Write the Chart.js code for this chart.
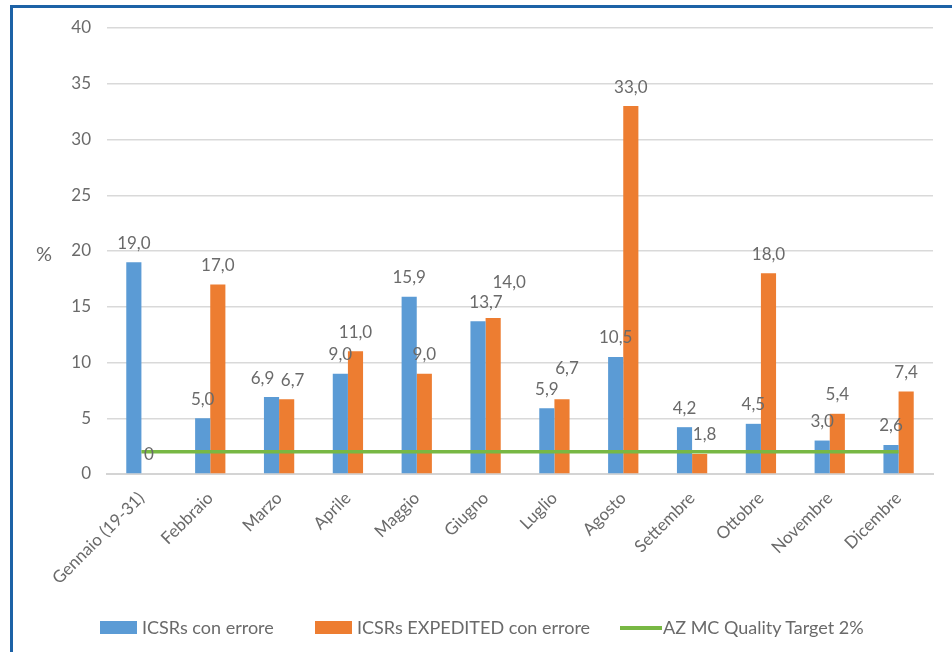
<!DOCTYPE html>
<html>
<head>
<meta charset="utf-8">
<script src="https://cdn.jsdelivr.net/npm/chart.js@4/dist/chart.umd.min.js"></script>
<style>
  html, body { margin: 0; padding: 0; background: #fff; }
  #wrap { position: relative; width: 952px; height: 652px; overflow: hidden; }
  #frame { position: absolute; left: 10px; top: 5px; right: 0; bottom: 0;
           border-top: 3px solid #1d62a6; border-left: 3px solid #1d62a6; pointer-events: none; }
  #chart { position: absolute; left: 0; top: 0; }
  #legend { position: absolute; left: 0; top: 616px; width: 952px; height: 22px;
            font-family: Lato, "Liberation Sans", sans-serif; font-size: 18px; color: #6a6a6a; }
  .item { position: absolute; top: 0; height: 22px; line-height: 22px; white-space: nowrap; }
  .swatch { position: absolute; }
</style>
</head>
<body>
<div id="wrap">
  <canvas id="chart" width="952" height="652"></canvas>
  <div id="legend"></div>
  <div id="frame"></div>
</div>
<script>
// Months (January counted from the 19th)
const categories = ['Gennaio (19-31)', 'Febbraio', 'Marzo', 'Aprile', 'Maggio', 'Giugno',
                    'Luglio', 'Agosto', 'Settembre', 'Ottobre', 'Novembre', 'Dicembre'];
// % of ICSRs with errors
const icsrErrore = [19.0, 5.0, 6.9, 9.0, 15.9, 13.7, 5.9, 10.5, 4.2, 4.5, 3.0, 2.6];
// % of EXPEDITED ICSRs with errors
const expeditedErrore = [0, 17.0, 6.7, 11.0, 9.0, 14.0, 6.7, 33.0, 1.8, 18.0, 5.4, 7.4];
// Quality target (flat 2%)
const qualityTarget = [2, 2, 2, 2, 2, 2, 2, 2, 2, 2, 2, 2];
const yTicks = [0, 5, 10, 15, 20, 25, 30, 35, 40];
const seriesNames = ['ICSRs con errore', 'ICSRs EXPEDITED con errore', 'AZ MC Quality Target 2%'];

const BLUE = '#5b9bd5', ORANGE = '#ed7d31', GREEN = '#78b844';
const TEXT = '#6a6a6a';
const FONT = 'Lato, "Liberation Sans", sans-serif';

const fmt = v => v === 0 ? '0' : v.toFixed(1).replace('.', ',');

// small shifts for value labels that would otherwise collide ("dataset:index" -> [dx, dy])
const labelShift = {
  '0:2': [-9, 0], '1:2': [6, 0],
  '0:5': [8, 0], '1:5': [16, -16],
  '1:6': [5, -12],
  '1:8': [5, 0]
};

// value labels above each bar
const barLabels = {
  id: 'barLabels',
  afterDatasetsDraw(chart) {
    const ctx = chart.ctx;
    ctx.save();
    ctx.font = '17px ' + FONT;
    ctx.fillStyle = TEXT;
    ctx.textAlign = 'center';
    ctx.textBaseline = 'middle';
    chart.data.datasets.forEach((ds, di) => {
      if (ds.type === 'line') return;
      chart.getDatasetMeta(di).data.forEach((bar, i) => {
        const [dx, dy] = labelShift[di + ':' + i] || [0, 0];
        ctx.fillText(fmt(ds.data[i]), bar.x + dx, bar.y - 19 + dy);
      });
    });
    ctx.restore();
  }
};

// horizontal "%" axis title
const yTitle = {
  id: 'yTitle',
  afterDraw(chart) {
    const ctx = chart.ctx, a = chart.chartArea;
    ctx.save();
    ctx.font = '20px ' + FONT;
    ctx.fillStyle = TEXT;
    ctx.textAlign = 'center';
    ctx.textBaseline = 'middle';
    ctx.fillText('%', 44, (a.top + a.bottom) / 2 + 4);
    ctx.restore();
  }
};

new Chart(document.getElementById('chart'), {
  type: 'bar',
  data: {
    labels: categories,
    datasets: [
      { label: seriesNames[0], data: icsrErrore, backgroundColor: BLUE,
        barPercentage: 1, categoryPercentage: 0.44, order: 2 },
      { label: seriesNames[1], data: expeditedErrore, backgroundColor: ORANGE,
        barPercentage: 1, categoryPercentage: 0.44, order: 2 },
      { type: 'line', label: seriesNames[2], data: qualityTarget, borderColor: GREEN,
        backgroundColor: GREEN, borderWidth: 3.5, pointRadius: 0, tension: 0, order: 1 }
    ]
  },
  options: {
    responsive: false,
    animation: false,
    layout: { padding: { left: 0, right: 19, top: 28, bottom: 0 } },
    plugins: { legend: { display: false }, tooltip: { enabled: false } },
    scales: {
      x: {
        grid: { display: false },
        border: { display: true, color: '#d4d4d4', width: 2 },
        ticks: { color: TEXT, font: { family: FONT, size: 17 }, minRotation: 45, maxRotation: 45,
                 autoSkip: false, padding: 6 },
        afterFit: s => { s.height = 178; }
      },
      y: {
        min: 0, max: 40,
        afterBuildTicks: s => { s.ticks = yTicks.map(v => ({ value: v })); },
        grid: { color: '#d9d9d9', lineWidth: 1.5, drawTicks: false },
        border: { display: false },
        ticks: { color: TEXT, font: { family: FONT, size: 17 }, padding: 16 },
        afterFit: s => { s.width = 107; }
      }
    }
  },
  plugins: [barLabels, yTitle]
});

// legend row
const legend = document.getElementById('legend');
const entries = [
  { name: seriesNames[0], color: BLUE, kind: 'box', x: 100 },
  { name: seriesNames[1], color: ORANGE, kind: 'box', x: 315 },
  { name: seriesNames[2], color: GREEN, kind: 'line', x: 620 }
];
entries.forEach(e => {
  const item = document.createElement('div');
  item.className = 'item';
  item.style.left = e.x + 'px';
  const sw = document.createElement('div');
  sw.className = 'swatch';
  sw.style.background = e.color;
  if (e.kind === 'box') {
    sw.style.left = '0px'; sw.style.top = '5px'; sw.style.width = '37px'; sw.style.height = '13px';
  } else {
    sw.style.left = '0px'; sw.style.top = '10px'; sw.style.width = '42px'; sw.style.height = '3.5px';
  }
  const txt = document.createElement('span');
  txt.textContent = e.name;
  txt.style.position = 'absolute';
  txt.style.left = (e.kind === 'box' ? 42 : 43) + 'px';
  item.appendChild(sw);
  item.appendChild(txt);
  legend.appendChild(item);
});
</script>
</body>
</html>
